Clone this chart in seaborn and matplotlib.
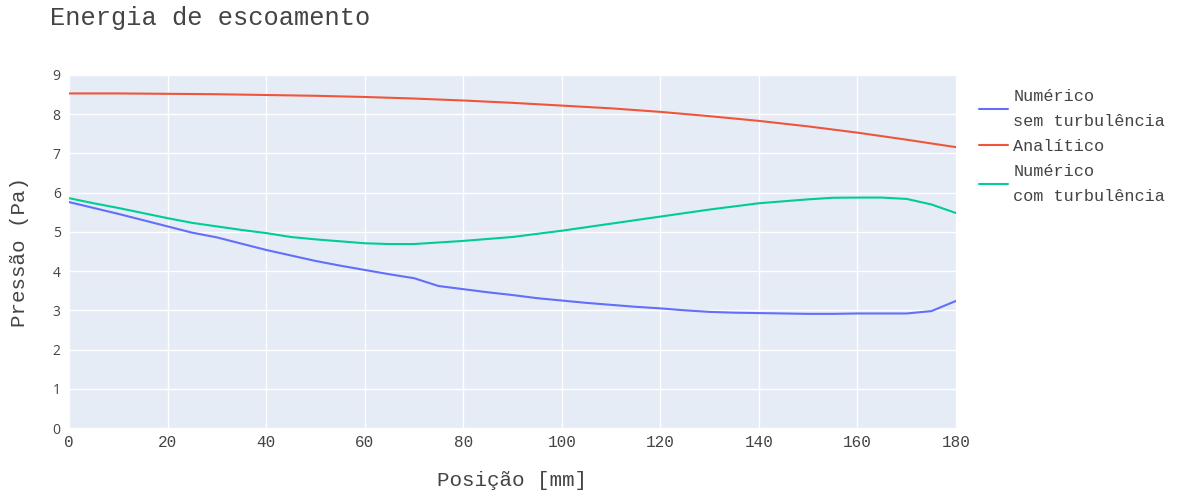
import pandas as pd
import matplotlib
matplotlib.use("Agg")
import matplotlib.pyplot as plt
import seaborn as sns

# -----------------------------
# Data
# -----------------------------
pos_num = [0, 5, 10, 15, 20, 25, 30, 35, 40, 45, 50, 55, 60, 65, 70, 75, 80, 85, 90,
           95, 100, 105, 110, 115, 120, 125, 130, 135, 140, 145, 150, 155, 160, 165,
           170, 175, 180]
sem_turb = [5.76, 5.61, 5.46, 5.30, 5.14, 4.98, 4.86, 4.70, 4.54, 4.40, 4.26, 4.14,
            4.03, 3.92, 3.82, 3.62, 3.54, 3.46, 3.39, 3.31, 3.25, 3.19, 3.14, 3.09,
            3.05, 3.00, 2.96, 2.94, 2.93, 2.92, 2.91, 2.91, 2.92, 2.92, 2.92, 2.98, 3.24]
com_turb = [5.86, 5.73, 5.61, 5.48, 5.35, 5.23, 5.14, 5.05, 4.97, 4.87, 4.81, 4.76,
            4.71, 4.69, 4.69, 4.73, 4.77, 4.82, 4.87, 4.95, 5.03, 5.12, 5.21, 5.30,
            5.39, 5.48, 5.57, 5.65, 5.73, 5.78, 5.83, 5.87, 5.875, 5.875, 5.84, 5.70, 5.48]

pos_ana = [0, 10, 20, 30, 40, 50, 60, 70, 80, 90, 100, 110, 120, 130, 140, 150, 160,
           170, 180]
analitico = [8.53, 8.53, 8.52, 8.51, 8.49, 8.47, 8.44, 8.40, 8.35, 8.29, 8.22, 8.15,
             8.06, 7.95, 7.83, 7.69, 7.53, 7.35, 7.16]

labels = ["Numérico\nsem turbulência", "Analítico", "Numérico\ncom turbulência"]
colors = ["#636EFA", "#EF553B", "#00CC96"]

df_sem = pd.DataFrame({"Posição": pos_num, "Pressão": sem_turb})
df_ana = pd.DataFrame({"Posição": pos_ana, "Pressão": analitico})
df_com = pd.DataFrame({"Posição": pos_num, "Pressão": com_turb})

# -----------------------------
# Style
# -----------------------------
sns.set_theme(style="darkgrid", rc={"axes.facecolor": "#E5ECF6",
                                    "grid.color": "white",
                                    "grid.linewidth": 1.0})
mono = ["Liberation Mono", "DejaVu Sans Mono"]
text_color = "#444444"

fig = plt.figure(figsize=(11.93, 4.91), dpi=100)
ax = fig.add_axes([69 / 1193, 1 - 428 / 491, 887 / 1193, 353 / 491])

for d, lab, c in zip([df_sem, df_ana, df_com], labels, colors):
    sns.lineplot(data=d, x="Posição", y="Pressão", ax=ax, color=c, label=lab,
                 linewidth=1.5)

ax.set_xlim(0, 180)
ax.set_ylim(0, 9)
ax.set_xticks(range(0, 181, 20))
ax.set_yticks(range(0, 10))
for s in ax.spines.values():
    s.set_visible(False)
ax.tick_params(length=0, colors=text_color)
ax.tick_params(axis="x", pad=5)
ax.tick_params(axis="y", pad=6)
for t in ax.get_xticklabels():
    t.set_fontfamily(mono)
    t.set_fontsize(11.5)
for t in ax.get_yticklabels():
    t.set_fontfamily(["Open Sans", "DejaVu Sans"])
    t.set_fontsize(10)

ax.set_xlabel("")
ax.set_ylabel("")
fig.text(512 / 1193, 1 - 480 / 491, "Posição [mm]", ha="center", va="center",
         fontsize=15, family=mono, color=text_color)
fig.text(20 / 1193, 1 - 252 / 491, "Pressão (Pa)", ha="center", va="center",
         rotation=90, fontsize=15, family=mono, color=text_color)
fig.text(50 / 1193, 1 - 18 / 491, "Energia de escoamento", ha="left", va="center",
         fontsize=18.3, family=mono, color=text_color)

ax.get_legend().remove()
handles, labs = ax.get_legend_handles_labels()
leg = fig.legend(handles, labs, loc="upper left",
                 bbox_to_anchor=(964 / 1193, 1 - 74 / 491),
                 frameon=False, prop={"family": mono, "size": 12.2},
                 labelcolor=text_color, handlelength=1.7, handletextpad=0.3,
                 labelspacing=0.6)
for t in leg.get_texts():
    t.set_linespacing(1.8)

fig.savefig("out.png", dpi=100)
